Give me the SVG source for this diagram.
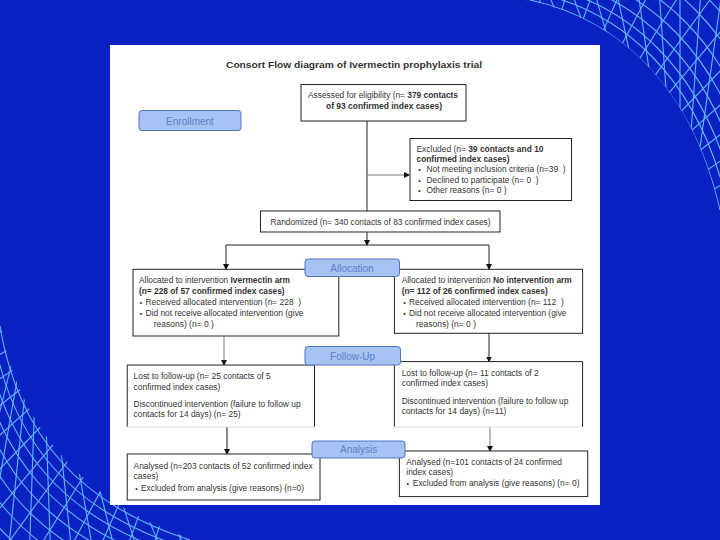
<svg xmlns="http://www.w3.org/2000/svg" xmlns:xlink="http://www.w3.org/1999/xlink" width="720" height="540" viewBox="0 0 720 540">
<style>
.t{font-family:"Liberation Sans",Arial,sans-serif;font-size:8.3px;fill:#333}
.b{font-weight:bold}
.bu{font-family:"Liberation Sans",Arial,sans-serif;font-size:7px;fill:#333;text-anchor:middle}
.box{fill:#fff;stroke:#222;stroke-width:1}
.lab rect{fill:#a6c3f4;stroke:#4f74c2;stroke-width:1}
.lab text{font-family:"Liberation Sans",Arial,sans-serif;font-size:10px;fill:#5d80c6;text-anchor:middle}
.c{stroke:#222;stroke-width:1;fill:none}
.g{stroke:#777;stroke-width:1;fill:none}
.mesh{stroke:#64b4fa;stroke-width:1.1;fill:none}
</style>
<defs>
<marker id="ah" markerWidth="6" markerHeight="6" refX="5" refY="3" orient="auto" markerUnits="userSpaceOnUse">
<path d="M0,0 L6,3 L0,6 z" fill="#111"/>
</marker>
<clipPath id="cTR"><path d="M525,0 C612,16 692,80 720,212 L720,0 Z"/></clipPath>
<clipPath id="cBL"><path d="M0,322 C20,440 100,510 195,540 L0,540 Z"/></clipPath>
<path id="arcTR" d="M530,0 C612,18 690,80 720,210"/>
<path id="arcBL" d="M0,326 C18,435 80,505 190,540"/>
<line id="rayTR" x1="470" y1="330" x2="1200" y2="330"/>
<line id="rayTR2" x1="680" y1="290" x2="1400" y2="290"/>
<line id="rayBL" x1="250" y1="210" x2="1000" y2="210"/>
<line id="rayBL2" x1="40" y1="250" x2="800" y2="250"/>
</defs>

<rect x="0" y="0" width="720" height="540" fill="#0b22c2"/>

<g id="meshTR" class="mesh" clip-path="url(#cTR)">
<use xlink:href="#arcTR"/>
<use xlink:href="#arcTR" transform="translate(7,-7)"/>
<use xlink:href="#arcTR" transform="translate(14,-14)"/>
<use xlink:href="#arcTR" transform="translate(22,-22)"/>
<use xlink:href="#arcTR" transform="translate(31,-31)"/>
<use xlink:href="#arcTR" transform="translate(41,-41)"/>
<use xlink:href="#arcTR" transform="translate(52,-52)"/>
<use xlink:href="#arcTR" transform="translate(64,-64)"/>
<use xlink:href="#arcTR" transform="translate(77,-77)"/>
<use xlink:href="#arcTR" transform="translate(91,-91)"/>
<use xlink:href="#rayTR" transform="rotate(-86 470 330)"/>
<use xlink:href="#rayTR" transform="rotate(-82 470 330)"/>
<use xlink:href="#rayTR" transform="rotate(-78 470 330)"/>
<use xlink:href="#rayTR" transform="rotate(-74 470 330)"/>
<use xlink:href="#rayTR" transform="rotate(-70 470 330)"/>
<use xlink:href="#rayTR" transform="rotate(-66 470 330)"/>
<use xlink:href="#rayTR" transform="rotate(-62 470 330)"/>
<use xlink:href="#rayTR" transform="rotate(-58 470 330)"/>
<use xlink:href="#rayTR" transform="rotate(-54 470 330)"/>
<use xlink:href="#rayTR" transform="rotate(-50 470 330)"/>
<use xlink:href="#rayTR" transform="rotate(-46 470 330)"/>
<use xlink:href="#rayTR" transform="rotate(-42 470 330)"/>
<use xlink:href="#rayTR" transform="rotate(-38 470 330)"/>
<use xlink:href="#rayTR" transform="rotate(-34 470 330)"/>
<use xlink:href="#rayTR" transform="rotate(-30 470 330)"/>
<use xlink:href="#rayTR" transform="rotate(-26 470 330)"/>
<use xlink:href="#rayTR" transform="rotate(-22 470 330)"/>
<use xlink:href="#rayTR" transform="rotate(-18 470 330)"/>
<use xlink:href="#rayTR2" transform="rotate(-82 680 290)"/>
<use xlink:href="#rayTR2" transform="rotate(-86 680 290)"/>
<use xlink:href="#rayTR2" transform="rotate(-90 680 290)"/>
<use xlink:href="#rayTR2" transform="rotate(-94 680 290)"/>
<use xlink:href="#rayTR2" transform="rotate(-98 680 290)"/>
<use xlink:href="#rayTR2" transform="rotate(-102 680 290)"/>
<use xlink:href="#rayTR2" transform="rotate(-106 680 290)"/>
<use xlink:href="#rayTR2" transform="rotate(-110 680 290)"/>
<use xlink:href="#rayTR2" transform="rotate(-114 680 290)"/>
<use xlink:href="#rayTR2" transform="rotate(-118 680 290)"/>
<use xlink:href="#rayTR2" transform="rotate(-122 680 290)"/>
<use xlink:href="#rayTR2" transform="rotate(-126 680 290)"/>
<use xlink:href="#rayTR2" transform="rotate(-130 680 290)"/>
</g>

<g id="meshBL" class="mesh" clip-path="url(#cBL)">
<use xlink:href="#arcBL"/>
<use xlink:href="#arcBL" transform="translate(-7,7)"/>
<use xlink:href="#arcBL" transform="translate(-14,14)"/>
<use xlink:href="#arcBL" transform="translate(-22,22)"/>
<use xlink:href="#arcBL" transform="translate(-31,31)"/>
<use xlink:href="#arcBL" transform="translate(-41,41)"/>
<use xlink:href="#arcBL" transform="translate(-52,52)"/>
<use xlink:href="#arcBL" transform="translate(-64,64)"/>
<use xlink:href="#arcBL" transform="translate(-77,77)"/>
<use xlink:href="#arcBL" transform="translate(-91,91)"/>
<use xlink:href="#rayBL" transform="rotate(98 250 210)"/>
<use xlink:href="#rayBL" transform="rotate(102 250 210)"/>
<use xlink:href="#rayBL" transform="rotate(106 250 210)"/>
<use xlink:href="#rayBL" transform="rotate(110 250 210)"/>
<use xlink:href="#rayBL" transform="rotate(114 250 210)"/>
<use xlink:href="#rayBL" transform="rotate(118 250 210)"/>
<use xlink:href="#rayBL" transform="rotate(122 250 210)"/>
<use xlink:href="#rayBL" transform="rotate(126 250 210)"/>
<use xlink:href="#rayBL" transform="rotate(130 250 210)"/>
<use xlink:href="#rayBL" transform="rotate(134 250 210)"/>
<use xlink:href="#rayBL" transform="rotate(138 250 210)"/>
<use xlink:href="#rayBL" transform="rotate(142 250 210)"/>
<use xlink:href="#rayBL" transform="rotate(146 250 210)"/>
<use xlink:href="#rayBL" transform="rotate(150 250 210)"/>
<use xlink:href="#rayBL" transform="rotate(154 250 210)"/>
<use xlink:href="#rayBL" transform="rotate(158 250 210)"/>
<use xlink:href="#rayBL" transform="rotate(162 250 210)"/>
<use xlink:href="#rayBL" transform="rotate(166 250 210)"/>
<use xlink:href="#rayBL2" transform="rotate(52 40 250)"/>
<use xlink:href="#rayBL2" transform="rotate(56 40 250)"/>
<use xlink:href="#rayBL2" transform="rotate(60 40 250)"/>
<use xlink:href="#rayBL2" transform="rotate(64 40 250)"/>
<use xlink:href="#rayBL2" transform="rotate(68 40 250)"/>
<use xlink:href="#rayBL2" transform="rotate(72 40 250)"/>
<use xlink:href="#rayBL2" transform="rotate(76 40 250)"/>
<use xlink:href="#rayBL2" transform="rotate(80 40 250)"/>
<use xlink:href="#rayBL2" transform="rotate(84 40 250)"/>
<use xlink:href="#rayBL2" transform="rotate(88 40 250)"/>
<use xlink:href="#rayBL2" transform="rotate(92 40 250)"/>
<use xlink:href="#rayBL2" transform="rotate(96 40 250)"/>
<use xlink:href="#rayBL2" transform="rotate(100 40 250)"/>
<use xlink:href="#rayBL2" transform="rotate(104 40 250)"/>
</g>

<rect id="panel" x="110" y="45" width="490" height="460" fill="#ffffff"/>

<text class="t b" x="354" y="68" text-anchor="middle" font-size="10" textLength="256" lengthAdjust="spacingAndGlyphs">Consort Flow diagram of Ivermectin prophylaxis trial</text>

<g id="connectors">
<line class="c" x1="367" y1="121" x2="367" y2="211"/>
<line class="g" x1="367" y1="175" x2="409" y2="175" marker-end="url(#ah)"/>
<line class="c" x1="367" y1="232" x2="367" y2="245" marker-end="url(#ah)"/>
<line class="c" x1="226" y1="245" x2="489" y2="245"/>
<line class="c" x1="226" y1="245" x2="226" y2="269" marker-end="url(#ah)"/>
<line class="c" x1="489" y1="245" x2="489" y2="269" marker-end="url(#ah)"/>
<line class="g" x1="224" y1="336" x2="224" y2="365" marker-end="url(#ah)"/>
<line class="c" x1="489" y1="333" x2="489" y2="361.5" marker-end="url(#ah)"/>
<line stroke="#888" stroke-width="2" x1="227" y1="427" x2="227" y2="450"/>
<line class="g" x1="227" y1="449" x2="227" y2="454" marker-end="url(#ah)"/>
<line class="g" x1="490" y1="427" x2="490" y2="451" marker-end="url(#ah)"/>
</g>

<g id="assessed">
<rect class="box" x="301" y="84.5" width="165" height="36.5"/>
<text class="t" x="308" y="98" textLength="150" lengthAdjust="spacingAndGlyphs">Assessed for eligibility (n= <tspan class="b">379 contacts</tspan></text>
<text class="t b" x="326" y="108.5" textLength="116" lengthAdjust="spacingAndGlyphs">of 93 confirmed index cases)</text>
</g>

<g id="enrollment" class="lab">
<rect x="139" y="110.5" width="102" height="20" rx="3"/>
<text x="190" y="124.5">Enrollment</text>
</g>

<g id="excluded">
<rect class="box" x="410" y="138.5" width="161.5" height="62"/>
<text class="t" x="416.5" y="152" textLength="127" lengthAdjust="spacingAndGlyphs">Excluded (n= <tspan class="b">39 contacts and 10</tspan></text>
<text class="t b" x="416.5" y="162" textLength="93" lengthAdjust="spacingAndGlyphs">confirmed index cases)</text>
<text class="bu" x="419.5" y="172">•</text>
<text class="t" x="426.5" y="172" textLength="139" lengthAdjust="spacingAndGlyphs">Not meeting inclusion criteria (n=39 &#160;)</text>
<text class="bu" x="419.5" y="182.5">•</text>
<text class="t" x="426.5" y="182.5" textLength="112" lengthAdjust="spacingAndGlyphs">Declined to participate (n= 0 &#160;)</text>
<text class="bu" x="419.5" y="193">•</text>
<text class="t" x="426.5" y="193" textLength="80" lengthAdjust="spacingAndGlyphs">Other reasons (n= 0 )</text>
</g>

<g id="randomized">
<rect class="box" x="260.5" y="211" width="239.5" height="21"/>
<text class="t" x="270.5" y="224.5" textLength="220" lengthAdjust="spacingAndGlyphs">Randomized (n= 340 contacts of 83 confirmed index cases)</text>
</g>

<g id="allocLeft">
<rect class="box" x="133" y="269.3" width="205.8" height="66.7"/>
<text class="t" x="139" y="283" textLength="151" lengthAdjust="spacingAndGlyphs">Allocated to intervention <tspan class="b">Ivermectin arm</tspan></text>
<text class="t b" x="139" y="293.5" textLength="145.6" lengthAdjust="spacingAndGlyphs">(n= 228 of 57 confirmed index cases)</text>
<text class="bu" x="141" y="304.5">•</text>
<text class="t" x="145.5" y="304.5" textLength="155.6" lengthAdjust="spacingAndGlyphs">Received allocated intervention (n= 228 &#160;)</text>
<text class="bu" x="141" y="316">•</text>
<text class="t" x="145.5" y="316" textLength="158" lengthAdjust="spacingAndGlyphs">Did not receive allocated intervention (give</text>
<text class="t" x="153.8" y="327" textLength="60" lengthAdjust="spacingAndGlyphs">reasons) (n= 0 )</text>
</g>

<g id="allocRight">
<rect class="box" x="394.4" y="269.3" width="188.2" height="64"/>
<text class="t" x="401.7" y="283" textLength="170" lengthAdjust="spacingAndGlyphs">Allocated to intervention <tspan class="b">No intervention arm</tspan></text>
<text class="t b" x="401.7" y="293.5" textLength="146" lengthAdjust="spacingAndGlyphs">(n= 112 of 26 confirmed index cases)</text>
<text class="bu" x="404.5" y="304.5">•</text>
<text class="t" x="409" y="304.5" textLength="154.7" lengthAdjust="spacingAndGlyphs">Received allocated intervention (n= 112 &#160;)</text>
<text class="bu" x="404.5" y="316">•</text>
<text class="t" x="409" y="316" textLength="157.5" lengthAdjust="spacingAndGlyphs">Did not receive allocated intervention (give</text>
<text class="t" x="416" y="327" textLength="60" lengthAdjust="spacingAndGlyphs">reasons) (n= 0 )</text>
</g>

<g id="allocation" class="lab">
<rect x="305" y="259" width="94.5" height="17.5" rx="3"/>
<text x="352" y="271.5">Allocation</text>
</g>

<g id="followLeft">
<path d="M127.2,427 V365 H314.5 V427" fill="#fff" stroke="#222" stroke-width="1"/>
<line x1="127.2" y1="427" x2="314.5" y2="427" stroke="#ddd" stroke-width="1"/>
<text class="t" x="133.6" y="379" textLength="137" lengthAdjust="spacingAndGlyphs">Lost to follow-up (n= 25 contacts of 5</text>
<text class="t" x="133.6" y="389.5" textLength="86.8" lengthAdjust="spacingAndGlyphs">confirmed index cases)</text>
<text class="t" x="133.6" y="407" textLength="167" lengthAdjust="spacingAndGlyphs">Discontinued intervention (failure to follow up</text>
<text class="t" x="133.6" y="417" textLength="107" lengthAdjust="spacingAndGlyphs">contacts for 14 days) (n= 25)</text>
</g>

<g id="followRight">
<path d="M394.4,427 V361.6 H582.6 V427" fill="#fff" stroke="#222" stroke-width="1"/>
<line x1="394.4" y1="427" x2="582.6" y2="427" stroke="#ddd" stroke-width="1"/>
<text class="t" x="401.7" y="375.5" textLength="137" lengthAdjust="spacingAndGlyphs">Lost to follow-up (n= 11 contacts of 2</text>
<text class="t" x="401.7" y="386" textLength="86.3" lengthAdjust="spacingAndGlyphs">confirmed index cases)</text>
<text class="t" x="401.7" y="403.5" textLength="166.7" lengthAdjust="spacingAndGlyphs">Discontinued intervention (failure to follow up</text>
<text class="t" x="401.7" y="413.5" textLength="104.7" lengthAdjust="spacingAndGlyphs">contacts for 14 days) (n=11)</text>
</g>

<g id="followup" class="lab">
<rect x="305" y="346.5" width="95.5" height="18.5" rx="3"/>
<text x="352.6" y="359.5">Follow-Up</text>
</g>

<g id="analysedLeft">
<rect class="box" x="127.2" y="454" width="192.8" height="46"/>
<text class="t" x="133.6" y="468.5" textLength="179" lengthAdjust="spacingAndGlyphs">Analysed (n=203 contacts of 52 confirmed index</text>
<text class="t" x="133.6" y="478.5" textLength="24.8" lengthAdjust="spacingAndGlyphs">cases)</text>
<text class="bu" x="136.4" y="490.5">•</text>
<text class="t" x="141" y="490.5" textLength="163" lengthAdjust="spacingAndGlyphs">Excluded from analysis (give reasons) (n=0)</text>
</g>

<g id="analysedRight">
<rect class="box" x="399.4" y="451" width="188.3" height="45.6"/>
<text class="t" x="406.3" y="465" textLength="155.7" lengthAdjust="spacingAndGlyphs">Analysed (n=101 contacts of 24 confirmed</text>
<text class="t" x="406.3" y="475" textLength="46.8" lengthAdjust="spacingAndGlyphs">index cases)</text>
<text class="bu" x="407.7" y="486">•</text>
<text class="t" x="412.8" y="486" textLength="166.7" lengthAdjust="spacingAndGlyphs">Excluded from analysis (give reasons) (n= 0)</text>
</g>

<g id="analysis" class="lab">
<rect x="312" y="441" width="93" height="17" rx="3"/>
<text x="358.6" y="453">Analysis</text>
</g>
</svg>
